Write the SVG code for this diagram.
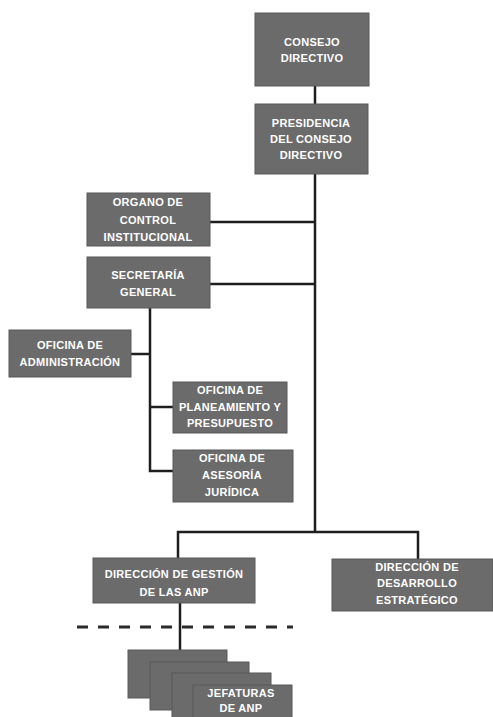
<svg xmlns="http://www.w3.org/2000/svg" width="493" height="717" viewBox="0 0 493 717">
<style>
.box{fill:#6b6b6b;stroke:#585858;stroke-width:1}
.t{font-family:"Liberation Sans",Arial,sans-serif;font-size:11px;font-weight:bold;fill:#ffffff;text-anchor:middle;letter-spacing:0.3px}
.c{stroke:#1e1e1e;stroke-width:2.5;fill:none}
</style>
<rect width="493" height="717" fill="#ffffff"/>
<g id="connectors">
<path class="c" d="M315,86V532"/>
<path class="c" d="M210,222H315"/>
<path class="c" d="M210,284H315"/>
<path class="c" d="M150,308V471H173"/>
<path class="c" d="M131,354H150"/>
<path class="c" d="M150,407H173"/>
<path class="c" d="M178,558V532H418V559"/>
<path class="c" d="M180,603V650"/>
<path d="M77,627H293" stroke="#2a2a2a" stroke-width="3" stroke-dasharray="11,10" fill="none"/>
</g>
<g id="consejo">
<rect class="box" x="255" y="13" width="114" height="73"/>
<text class="t" x="312" y="46">CONSEJO</text>
<text class="t" x="312" y="62">DIRECTIVO</text>
</g>
<g id="presidencia">
<rect class="box" x="255" y="104" width="113" height="70"/>
<text class="t" x="311" y="127">PRESIDENCIA</text>
<text class="t" x="311" y="143">DEL CONSEJO</text>
<text class="t" x="311" y="159">DIRECTIVO</text>
</g>
<g id="organo">
<rect class="box" x="87" y="193" width="123" height="53"/>
<text class="t" x="148" y="206">ORGANO DE</text>
<text class="t" x="148" y="224">CONTROL</text>
<text class="t" x="148" y="241">INSTITUCIONAL</text>
</g>
<g id="secretaria">
<rect class="box" x="87" y="257" width="123" height="51"/>
<text class="t" x="148" y="279">SECRETARÍA</text>
<text class="t" x="148" y="296">GENERAL</text>
</g>
<g id="administracion">
<rect class="box" x="9" y="330" width="122" height="47"/>
<text class="t" x="70" y="349">OFICINA DE</text>
<text class="t" x="70" y="366">ADMINISTRACIÓN</text>
</g>
<g id="planeamiento">
<rect class="box" x="173" y="382" width="114" height="51"/>
<text class="t" x="230" y="394">OFICINA DE</text>
<text class="t" x="230" y="411">PLANEAMIENTO Y</text>
<text class="t" x="230" y="427">PRESUPUESTO</text>
</g>
<g id="asesoria">
<rect class="box" x="173" y="450" width="120" height="52"/>
<text class="t" x="232" y="462">OFICINA DE</text>
<text class="t" x="232" y="479">ASESORÍA</text>
<text class="t" x="232" y="496">JURÍDICA</text>
</g>
<g id="gestion">
<rect class="box" x="93" y="558" width="162" height="45"/>
<text class="t" x="174" y="578">DIRECCIÓN DE GESTIÓN</text>
<text class="t" x="174" y="596">DE LAS ANP</text>
</g>
<g id="desarrollo">
<rect class="box" x="332" y="559" width="161" height="52"/>
<text class="t" x="417" y="571">DIRECCIÓN DE</text>
<text class="t" x="417" y="587">DESARROLLO</text>
<text class="t" x="417" y="604">ESTRATÉGICO</text>
</g>
<g id="jefaturas">
<rect class="box" x="128" y="650" width="99" height="48"/>
<rect class="box" x="150" y="662" width="99" height="48"/>
<rect class="box" x="172" y="673" width="99" height="48"/>
<rect class="box" x="193" y="685" width="99" height="48"/>
<text class="t" x="241" y="697">JEFATURAS</text>
<text class="t" x="241" y="712">DE ANP</text>
</g>
</svg>
